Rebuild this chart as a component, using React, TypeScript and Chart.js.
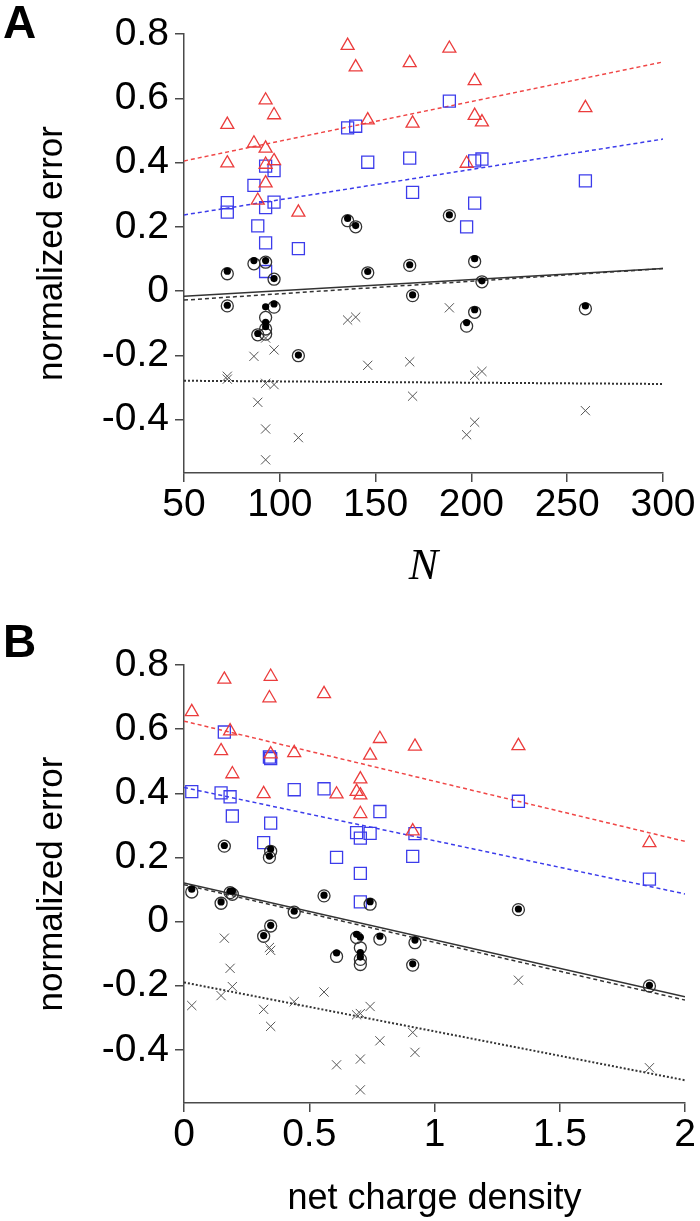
import React, { useEffect, useRef } from 'react';
import { Chart, registerables } from 'chart.js';

Chart.register(...registerables);

// 22 proteins, same order in every series
const proteinN = [72.6, 72.6, 86.5, 88.5, 92.6, 92.6, 92.6, 92.6, 97, 97, 109.7, 135.4, 139.6, 145.9, 167.8, 169.3, 188.5, 197.5, 201.7, 201.7, 205.5, 259.5];
const chargeDensity = [0.743, 0.318, 0.193, 0.913, 0.184, 0.704, 0.704, 0.704, 1.335, 0.689, 1.858, 0.346, 0.341, 0.148, 0.559, 0.346, 0.161, 0.609, 0.031, 0.922, 0.44, 0.782];

const triangleErr = [0.518, 0.398, 0.46, 0.282, 0.594, 0.444, 0.394, 0.336, 0.548, 0.405, 0.245, 0.764, 0.697, 0.532, 0.71, 0.522, 0.755, 0.397, 0.654, 0.546, 0.526, 0.57];
const squareErr = [0.275, 0.246, 0.329, 0.203, 0.389, 0.26, 0.15, 0.061, 0.375, 0.277, 0.132, 0.508, 0.513, 0.401, 0.414, 0.307, 0.591, 0.2, 0.405, 0.274, 0.411, 0.343];
const circleErr = [0.054, -0.046, 0.085, -0.136, 0.09, -0.082, -0.118, -0.134, 0.037, -0.05, -0.201, 0.219, 0.2, 0.057, 0.08, -0.014, 0.235, -0.109, 0.092, -0.066, 0.029, -0.055];
const dotErr = [0.062, -0.044, 0.095, -0.132, 0.095, -0.049, -0.097, -0.111, 0.039, -0.04, -0.199, 0.226, 0.204, 0.061, 0.082, -0.012, 0.237, -0.098, 0.101, -0.058, 0.032, -0.046];
const crossErr = [-0.265, -0.274, -0.203, -0.346, -0.146, -0.287, -0.429, -0.525, -0.183, -0.291, -0.456, -0.09, -0.081, -0.231, -0.22, -0.327, -0.052, -0.447, -0.262, -0.408, -0.25, -0.372];

// tick labels
const yTicks = [0.8, 0.6, 0.4, 0.2, 0, -0.2, -0.4];
const nTicks = [50, 100, 150, 200, 250, 300];
const densityTicks = [0, 0.5, 1, 1.5, 2];

// regression lines: [start, end]
const nFitX = [50, 300];
const redFitN = [0.405, 0.713];
const blueFitN = [0.237, 0.473];
const solidFitN = [-0.016, 0.07];
const dashedFitN = [-0.028, 0.07];
const dottedFitN = [-0.279, -0.289];

const densityFitX = [0, 2];
const redFitD = [0.625, 0.25];
const blueFitD = [0.418, 0.086];
const solidFitD = [0.12, -0.235];
const dashedFitD = [0.115, -0.245];
const dottedFitD = [-0.19, -0.495];

const SANS = '"Liberation Sans", Arial, Helvetica, sans-serif';
const AXIS = '#4a4a4a';

const panelLabel = {
  id: 'panelLabel',
  afterDraw(chart: any, _args: any, opts: any) {
    const ctx = chart.ctx;
    ctx.save();
    ctx.font = `bold 46px ${SANS}`;
    ctx.fillStyle = '#000';
    ctx.textBaseline = 'alphabetic';
    ctx.textAlign = 'left';
    ctx.fillText(opts.text, opts.x, opts.y);
    ctx.restore();
  },
};

function pts(xs: number[], ys: number[]) {
  return xs.map((x, i) => ({ x, y: ys[i] }));
}

function fitLine(xs: number[], ys: number[], color: string, dash: number[], width: number) {
  return {
    type: 'line' as const,
    data: pts(xs, ys),
    borderColor: color,
    borderWidth: width,
    borderDash: dash,
    pointRadius: 0,
    showLine: true,
    fill: false,
  };
}

function buildConfig(p: {
  xs: number[];
  xMin: number;
  xMax: number;
  xTicks: number[];
  fitX: number[];
  fits: number[][];
  xTitle: string;
  xTitleFont: any;
  xTitlePad: number;
  padTop: number;
  padRight: number;
  xAxisHeight: number;
  letter: string;
  letterY: number;
}) {
  const [red, blue, solid, dashed, dotted] = p.fits;
  return {
    type: 'scatter' as const,
    data: {
      datasets: [
        {
          data: pts(p.xs, dotErr),
          pointStyle: 'circle',
          pointRadius: 3.6,
          backgroundColor: '#000',
          borderColor: '#000',
          borderWidth: 0,
        },
        {
          data: pts(p.xs, circleErr),
          pointStyle: 'circle',
          pointRadius: 6,
          backgroundColor: 'rgba(0,0,0,0)',
          borderColor: '#333',
          borderWidth: 1.3,
        },
        {
          data: pts(p.xs, crossErr),
          pointStyle: 'crossRot',
          pointRadius: 6.5,
          backgroundColor: '#555',
          borderColor: '#555',
          borderWidth: 1,
        },
        {
          data: pts(p.xs, triangleErr),
          pointStyle: 'triangle',
          pointRadius: 7.5,
          backgroundColor: 'rgba(0,0,0,0)',
          borderColor: 'rgb(235,60,60)',
          borderWidth: 1.3,
        },
        {
          data: pts(p.xs, squareErr),
          pointStyle: 'rect',
          pointRadius: 8.5,
          backgroundColor: 'rgba(0,0,0,0)',
          borderColor: 'rgb(60,60,235)',
          borderWidth: 1.3,
        },
        fitLine(p.fitX, solid, '#333', [], 1.5),
        fitLine(p.fitX, dashed, '#333', [4, 3], 1.5),
        fitLine(p.fitX, dotted, '#333', [2, 2], 2),
        fitLine(p.fitX, red, 'rgb(240,70,70)', [4, 3], 1.5),
        fitLine(p.fitX, blue, 'rgb(60,60,235)', [4, 3], 1.5),
      ],
    },
    options: {
      responsive: false,
      animation: false as const,
      events: [],
      layout: { padding: { top: p.padTop, right: p.padRight, left: 0, bottom: 0 } },
      plugins: {
        legend: { display: false },
        tooltip: { enabled: false },
        panelLabel: { text: p.letter, x: 3, y: p.letterY },
      },
      scales: {
        x: {
          type: 'linear' as const,
          min: p.xMin,
          max: p.xMax,
          afterBuildTicks: (s: any) => {
            s.ticks = p.xTicks.map((value) => ({ value }));
          },
          afterFit: (s: any) => {
            s.height = p.xAxisHeight;
          },
          border: { display: true, color: AXIS, width: 1.5 },
          grid: { drawOnChartArea: false, drawTicks: true, tickLength: 9, color: AXIS, lineWidth: 1.5 },
          ticks: {
            color: '#000',
            font: { family: SANS, size: 39 },
            padding: 0,
            maxRotation: 0,
            autoSkip: false,
            callback: (v: any) => String(v),
          },
          title: {
            display: true,
            text: p.xTitle,
            color: '#000',
            font: p.xTitleFont,
            padding: { top: 0, bottom: p.xTitlePad },
          },
        },
        y: {
          type: 'linear' as const,
          min: -0.566,
          max: 0.8,
          afterBuildTicks: (s: any) => {
            s.ticks = yTicks.map((value) => ({ value }));
          },
          afterFit: (s: any) => {
            s.width = 184;
          },
          border: { display: true, color: AXIS, width: 1.5 },
          grid: { drawOnChartArea: false, drawTicks: true, tickLength: 9, color: AXIS, lineWidth: 1.5 },
          ticks: {
            color: '#000',
            font: { family: SANS, size: 39 },
            padding: 6,
            autoSkip: false,
            callback: (v: any) => (v === 0 ? '0' : Number(v).toFixed(1)),
          },
          title: {
            display: true,
            text: 'normalized error',
            color: '#000',
            font: { family: SANS, size: 35 },
            padding: { top: 31, bottom: 0 },
          },
        },
      },
    },
    plugins: [panelLabel],
  };
}

export default function App() {
  const refA = useRef<HTMLCanvasElement>(null);
  const refB = useRef<HTMLCanvasElement>(null);

  useEffect(() => {
    const a = new Chart(
      refA.current as HTMLCanvasElement,
      buildConfig({
        xs: proteinN,
        xMin: 50,
        xMax: 300,
        xTicks: nTicks,
        fitX: nFitX,
        fits: [redFitN, blueFitN, solidFitN, dashedFitN, dottedFitN],
        xTitle: 'N',
        xTitleFont: { family: '"Liberation Serif", "DejaVu Serif", serif', size: 44, style: 'italic' },
        xTitlePad: 16,
        padTop: 34,
        padRight: 37,
        xAxisHeight: 137,
        letter: 'A',
        letterY: 38,
      }) as any
    );
    const b = new Chart(
      refB.current as HTMLCanvasElement,
      buildConfig({
        xs: chargeDensity,
        xMin: 0,
        xMax: 2,
        xTicks: densityTicks,
        fitX: densityFitX,
        fits: [redFitD, blueFitD, solidFitD, dashedFitD, dottedFitD],
        xTitle: 'net charge density',
        xTitleFont: { family: SANS, size: 36 },
        xTitlePad: 0,
        padTop: 55,
        padRight: 15,
        xAxisHeight: 118,
        letter: 'B',
        letterY: 47,
      }) as any
    );
    return () => {
      a.destroy();
      b.destroy();
    };
  }, []);

  return (
    <div style={{ position: 'absolute', left: 0, top: 0, width: 700, height: 1221, background: '#fff' }}>
      <canvas ref={refA} width={700} height={610} style={{ position: 'absolute', left: 0, top: 0, width: 700, height: 610 }} />
      <canvas ref={refB} width={700} height={611} style={{ position: 'absolute', left: 0, top: 610, width: 700, height: 611 }} />
    </div>
  );
}
